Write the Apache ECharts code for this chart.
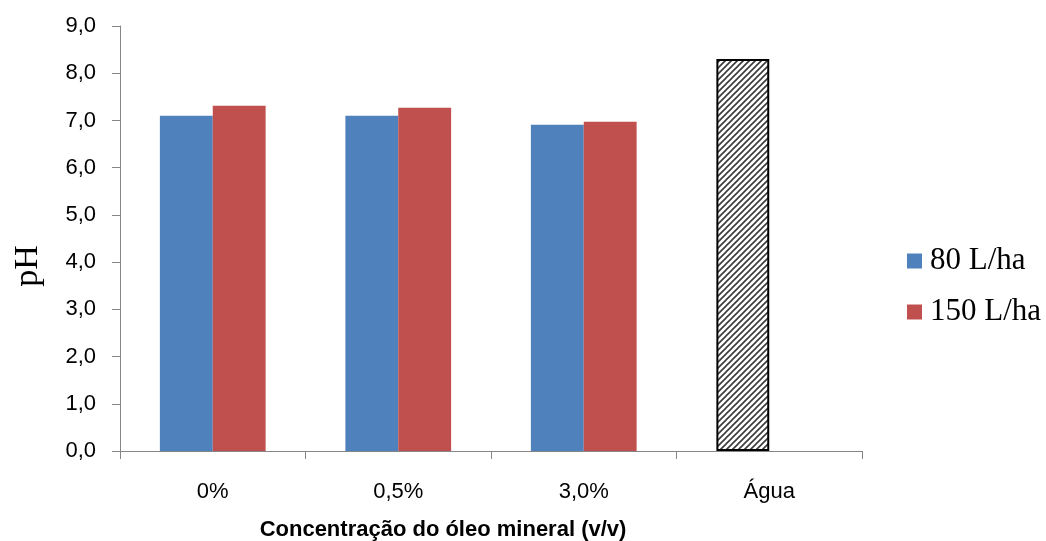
<!DOCTYPE html>
<html><head><meta charset="utf-8">
<script src="https://cdn.jsdelivr.net/npm/echarts@6/dist/echarts.min.js"></script>
<style>html,body{margin:0;padding:0;background:#fff}#c{width:1046px;height:541px}</style>
</head><body><div id="c"></div>
<script>
const categories = ['0%', '0,5%', '3,0%', 'Água'];
const series80 = [7.10, 7.10, 6.91, 8.30];
const series150 = [7.31, 7.27, 6.97, null];
const seriesNames = ['80 L/ha', '150 L/ha'];
const yTicks = [0, 1, 2, 3, 4, 5, 6, 7, 8, 9];

function hatch() {
  const s = 6, c = document.createElement('canvas');
  c.width = s; c.height = s;
  const g = c.getContext('2d');
  g.fillStyle = '#fff'; g.fillRect(0, 0, s, s);
  g.strokeStyle = '#3a3a3a'; g.lineWidth = 1.6;
  g.beginPath();
  g.moveTo(-1, s + 1); g.lineTo(s + 1, -1);
  g.moveTo(-1, 1); g.lineTo(1, -1);
  g.moveTo(s - 1, s + 1); g.lineTo(s + 1, s - 1);
  g.stroke();
  return { image: c, repeat: 'repeat' };
}

const chart = echarts.init(document.getElementById('c'));
const axisColor = '#868686';
chart.setOption({
  animation: false,
  grid: { left: 120, right: 184, top: 26, bottom: 90, containLabel: false, outerBoundsMode: 'none' },
  legend: {
    orient: 'vertical', left: 902, top: 240, itemGap: 19,
    itemWidth: 15, itemHeight: 15, icon: 'rect',
    textStyle: { fontFamily: 'Liberation Serif', fontSize: 31, lineHeight: 32, color: '#000', padding: [0, 0, 0, 3] },
    data: seriesNames
  },
  xAxis: {
    type: 'category', data: categories,
    name: 'Concentração do óleo mineral (v/v)', nameLocation: 'middle', nameGap: 68,
    nameTextStyle: { fontFamily: 'Liberation Sans', fontWeight: 'bold', fontSize: 22, color: '#000', padding: [0, 96, 0, 0] },
    axisLine: { lineStyle: { color: axisColor, width: 1 } },
    axisTick: { show: true, length: 8, lineStyle: { color: axisColor } },
    axisLabel: { fontFamily: 'Liberation Sans', fontSize: 22, color: '#000', margin: 30 }
  },
  yAxis: {
    type: 'value', min: yTicks[0], max: yTicks[yTicks.length - 1], interval: 1,
    name: 'pH', nameLocation: 'middle', nameGap: 75,
    nameTextStyle: { fontFamily: 'Liberation Serif', fontSize: 34, color: '#000', padding: [0, 55, 0, 0] },
    axisLine: { show: true, lineStyle: { color: axisColor, width: 1 } },
    axisTick: { show: true, length: 8, lineStyle: { color: axisColor } },
    splitLine: { show: false },
    axisLabel: { fontFamily: 'Liberation Sans', fontSize: 22, color: '#000', margin: 24,
      formatter: v => v.toFixed(1).replace('.', ',') }
  },
  series: [
    {
      name: seriesNames[0], type: 'bar', barGap: '0%', barCategoryGap: '43%',
      itemStyle: { color: '#4f81bd' },
      data: series80.map((v, i) => i === 3 ? { value: v, itemStyle: { color: hatch(), borderColor: '#000', borderWidth: 2 } } : v)
    },
    {
      name: seriesNames[1], type: 'bar',
      itemStyle: { color: '#c0504d' },
      data: series150
    }
  ]
});
</script></body></html>
